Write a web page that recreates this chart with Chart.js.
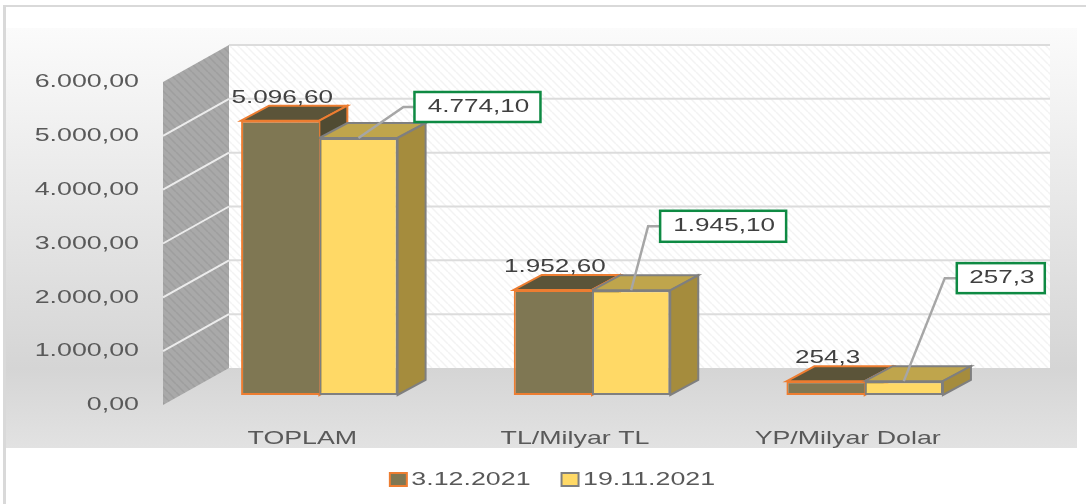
<!DOCTYPE html>
<html><head><meta charset="utf-8">
<style>html,body{margin:0;padding:0;background:#fff}canvas{display:block;filter:blur(0.5px)}</style>
<script src="https://cdn.jsdelivr.net/npm/chart.js@4/dist/chart.umd.min.js"></script>
</head><body>
<canvas id="c" width="1086" height="504"></canvas>
<script>
const categories = ['TOPLAM', 'TL/Milyar TL', 'YP/Milyar Dolar'];
const seriesNames = ['3.12.2021', '19.11.2021'];
const valuesDec3 = [5096.6, 1952.6, 254.3];
const valuesNov19 = [4774.1, 1945.1, 257.3];
const labelsDec3 = ['5.096,60', '1.952,60', '254,3'];
const labelsNov19 = ['4.774,10', '1.945,10', '257,3'];
const yTickLabels = ['0,00', '1.000,00', '2.000,00', '3.000,00', '4.000,00', '5.000,00', '6.000,00'];

const FONT = '"Liberation Sans", Arial, sans-serif';
const STRETCH = 1.41;           // the reference text is horizontally widened
const BAR_SHIFT = {x: 17, y: -10};
const BAR_DEPTH = {x: 28, y: -15};
const WALL_DEPTH = {x: 66, y: -37};
const WALL_LEFT_GAP = 3;
const calloutLayout = [
  {dx: 56, dy: -31, w: 126, h: 30, elbow: 45},
  {dx: 29, dy: -64, w: 126, h: 31, elbow: 17},
  {dx: 53, dy: -103,w: 88,  h: 30, elbow: 41}
];
const faceStyles = [
  {top: '#5b5439', side: '#504b32', stroke: '#ed7d31'},
  {top: '#bfa54c', side: '#a58c3d', stroke: '#7f7f7f'}
];

const canvas = document.getElementById('c');
const ctx = canvas.getContext('2d');
const rawFill = ctx.fillText.bind(ctx), rawMeasure = ctx.measureText.bind(ctx);
ctx.fillText = function (t, x, y) {
  const legendNudge = ctx.textAlign === 'left' ? -5 : 0;
  ctx.save(); ctx.translate(x + legendNudge, y); ctx.scale(STRETCH, 1); rawFill(t, 0, 0); ctx.restore();
};
ctx.measureText = function (t) { return {width: rawMeasure(t).width * STRETCH}; };

function hatch(bg, line) {
  const p = document.createElement('canvas'); p.width = p.height = 8;
  const g = p.getContext('2d');
  g.fillStyle = bg; g.fillRect(0, 0, 8, 8);
  g.strokeStyle = line; g.lineWidth = 1.5;
  for (const o of [-8, 0, 8]) { g.beginPath(); g.moveTo(o, 0); g.lineTo(o + 8, 8); g.stroke(); }
  return ctx.createPattern(p, 'repeat');
}
function poly(pts, fill, stroke, lw) {
  ctx.beginPath(); pts.forEach((p, i) => i ? ctx.lineTo(p[0], p[1]) : ctx.moveTo(p[0], p[1])); ctx.closePath();
  if (fill) { ctx.fillStyle = fill; ctx.fill(); }
  if (stroke) { ctx.strokeStyle = stroke; ctx.lineWidth = lw; ctx.lineJoin = 'miter'; ctx.stroke(); }
}
function line(pts, color, lw) {
  ctx.beginPath(); pts.forEach((p, i) => i ? ctx.lineTo(p[0], p[1]) : ctx.moveTo(p[0], p[1]));
  ctx.strokeStyle = color; ctx.lineWidth = lw; ctx.stroke();
}
function centered(t, x, y, size, color) {
  ctx.save(); ctx.font = size + 'px ' + FONT; ctx.fillStyle = color;
  ctx.textAlign = 'center'; ctx.textBaseline = 'middle'; ctx.fillText(t, x, y); ctx.restore();
}

const scene = {
  id: 'scene',
  afterLayout(chart) {
    const lg = chart.legend, shift = 555 - (lg.left + lg.right) / 2;
    lg.left += shift; lg.right += shift; lg.top = 444; lg.bottom = 504;
  },
  beforeDraw(chart) {
    ctx.save();
    const g = ctx.createLinearGradient(0, 28, 0, 448);
    g.addColorStop(0, '#fbfbfb'); g.addColorStop(0.81, '#d5d5d5'); g.addColorStop(1, '#e2e2e2');
    ctx.fillStyle = g; ctx.fillRect(6, 28, 1071, 420);
    ctx.fillStyle = '#d9d9d9';
    ctx.fillRect(3, 5, 1083, 2); ctx.fillRect(3, 5, 3, 499);
    ctx.restore();
  },
  beforeDatasetsDraw(chart) {
    const {left, right} = chart.chartArea, y = chart.scales.y;
    const x0 = left - WALL_LEFT_GAP, x1 = right;
    const W = WALL_DEPTH, top = y.getPixelForValue(6000), bot = y.getPixelForValue(0);
    ctx.save();
    // back wall
    poly([[x0 + W.x, top + W.y], [x1 + W.x, top + W.y], [x1 + W.x, bot + W.y], [x0 + W.x, bot + W.y]], hatch('#ffffff', '#f3f3f3'));
    // side wall
    poly([[x0, top], [x0 + W.x, top + W.y], [x0 + W.x, bot + W.y], [x0, bot]], hatch('#a9a9a9', '#9e9e9e'));
    // gridlines through the y scale
    y.ticks.forEach(t => {
      const p = y.getPixelForValue(t.value);
      if (t.value > 0) {
        line([[x0 + W.x, p + W.y], [x1 + W.x, p + W.y]], '#dcdcdc', 2);
        if (t.value < 6000) line([[x0, p], [x0 + W.x, p + W.y]], '#ececec', 2);
      }
    });
    // 3D bar faces
    const S = BAR_SHIFT, D = BAR_DEPTH;
    categories.forEach((_, j) => {
      [0, 1].forEach(i => {
        const el = chart.getDatasetMeta(i).data[j], f = faceStyles[i];
        const L = el.x - el.width / 2 + S.x, R = el.x + el.width / 2 + S.x, T = el.y + S.y, B = el.base + S.y;
        poly([[L, T], [L + D.x, T + D.y], [R + D.x, T + D.y], [R, T]], f.top, f.stroke, 2);
        poly([[R, T], [R + D.x, T + D.y], [R + D.x, B + D.y], [R, B]], f.side, f.stroke, 2);
      });
    });
    ctx.restore();
  },
  beforeDatasetDraw() { ctx.save(); ctx.translate(BAR_SHIFT.x, BAR_SHIFT.y); },
  afterDatasetDraw() { ctx.restore(); },
  afterDatasetsDraw(chart) {
    const S = BAR_SHIFT;
    ctx.save();
    categories.forEach((_, j) => {
      const a = chart.getDatasetMeta(0).data[j];
      centered(labelsDec3[j], a.x + S.x + 2, a.y + S.y - 23, 18.5, '#404040');
      const b = chart.getDatasetMeta(1).data[j], c = calloutLayout[j];
      const bx = b.x + S.x, by = b.y + S.y;
      line([[bx, by], [bx + c.elbow, by + c.dy], [bx + c.dx, by + c.dy]], '#a6a6a6', 2.5);
      const rx = bx + c.dx, ry = by + c.dy - c.h / 2;
      ctx.fillStyle = '#fff'; ctx.fillRect(rx, ry, c.w, c.h);
      ctx.strokeStyle = '#0e8a43'; ctx.lineWidth = 2.5; ctx.strokeRect(rx, ry, c.w, c.h);
      centered(labelsNov19[j], rx + c.w / 2 + 1, ry + c.h / 2, 18.5, '#404040');
    });
    ctx.restore();
  }
};

new Chart(ctx, {
  type: 'bar',
  data: {
    labels: categories,
    datasets: [
      {label: seriesNames[0], data: valuesDec3, backgroundColor: '#7f7753', borderColor: '#ed7d31', borderWidth: 2, borderSkipped: 'right'},
      {label: seriesNames[1], data: valuesNov19, backgroundColor: '#ffd966', borderColor: '#7f7f7f', borderWidth: 2, borderSkipped: false}
    ]
  },
  options: {
    responsive: false,
    animation: false,
    devicePixelRatio: 1,
    layout: {padding: {top: 82, right: 102, left: 0, bottom: 0}},
    datasets: {bar: {categoryPercentage: 0.574, barPercentage: 1, clip: false}},
    scales: {
      x: {
        grid: {display: false}, border: {display: false},
        ticks: {color: '#595959', font: {family: FONT, size: 19}, padding: 14, maxRotation: 0, autoSkip: false},
        afterFit(s) { s.height = 504 - 405 - s.chart.legend.height; }
      },
      y: {
        min: 0, max: 6000,
        grid: {display: false}, border: {display: false},
        ticks: {stepSize: 1000, color: '#595959', font: {family: FONT, size: 19}, padding: 19,
          callback: (v) => yTickLabels[v / 1000]},
        afterFit(s) { s.width = 166; }
      }
    },
    plugins: {
      tooltip: {enabled: false},
      legend: {
        position: 'bottom',
        labels: {boxWidth: 17, boxHeight: 13, padding: 26, color: '#595959', font: {family: FONT, size: 19}}
      }
    }
  },
  plugins: [scene]
});
</script>
</body></html>
